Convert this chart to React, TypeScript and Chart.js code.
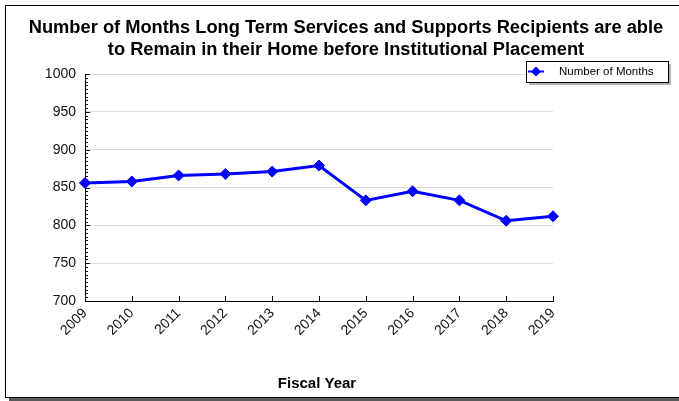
import React, { useEffect, useRef } from 'react';
import { Chart, registerables } from 'chart.js';

Chart.register(...registerables);

const titleLines = [
  'Number of Months Long Term Services and Supports Recipients are able',
  'to Remain in their Home before Institutional Placement',
];
const xAxisTitle = 'Fiscal Year';
const seriesName = 'Number of Months';
const years = ['2009', '2010', '2011', '2012', '2013', '2014', '2015', '2016', '2017', '2018', '2019'];
const months = [856, 858, 866, 868, 871, 879, 833, 845, 833, 806, 812];
const yMin = 700;
const yMax = 1000;
const yStep = 50;
const yMinorStep = 5;

const FONT = '"Liberation Sans", Arial, Helvetica, sans-serif';
const BLUE = '#0000ff';

const decorPlugin = {
  id: 'decor',
  beforeDraw(chart: any) {
    const { ctx } = chart;
    ctx.save();
    ctx.fillStyle = '#ffffff';
    ctx.fillRect(0, 0, chart.width, chart.height);
    ctx.fillStyle = '#5a5a5a';
    ctx.fillRect(9, 398, chart.width, 3);
    ctx.strokeStyle = '#000';
    ctx.lineWidth = 1;
    ctx.strokeRect(5.5, 5.5, chart.width + 20, 392);
    ctx.restore();
  },
  beforeDatasetsDraw(chart: any) {
    const { ctx, chartArea, scales } = chart;
    const x = scales.x;
    const y = scales.y;
    ctx.save();
    ctx.strokeStyle = '#000';
    ctx.lineWidth = 1;
    ctx.beginPath();
    for (let v = yMin; v <= yMax; v += yMinorStep) {
      const py = Math.round(y.getPixelForValue(v)) + 0.5;
      const len = v % yStep === 0 ? 5 : 3;
      ctx.moveTo(chartArea.left, py);
      ctx.lineTo(chartArea.left + len, py);
    }
    for (let i = 0; i < years.length; i++) {
      const px = Math.round(x.getPixelForValue(i)) + 0.5;
      ctx.moveTo(px, chartArea.bottom);
      ctx.lineTo(px, chartArea.bottom - 5);
    }
    ctx.stroke();
    ctx.restore();
  },
  afterDraw(chart: any) {
    const { ctx, chartArea } = chart;
    ctx.save();
    ctx.fillStyle = '#000';
    ctx.font = `bold 18.3px ${FONT}`;
    ctx.textAlign = 'center';
    ctx.textBaseline = 'middle';
    ctx.fillText(titleLines[0], 346, 28);
    ctx.fillText(titleLines[1], 346, 50);
    ctx.font = `bold 15px ${FONT}`;
    ctx.fillText(xAxisTitle, (chartArea.left + chartArea.right) / 2 - 2, 384);
    const lx = 526, ly = 61, lw = 142, lh = 21;
    ctx.fillStyle = '#b0b0b0';
    ctx.fillRect(lx + 3, ly + 3, lw, lh);
    ctx.fillStyle = '#fff';
    ctx.fillRect(lx, ly, lw, lh);
    ctx.strokeStyle = '#000';
    ctx.lineWidth = 1;
    ctx.strokeRect(lx + 0.5, ly + 0.5, lw, lh);
    const cy = ly + 10.5;
    ctx.strokeStyle = BLUE;
    ctx.lineWidth = 2;
    ctx.beginPath();
    ctx.moveTo(lx + 2, cy);
    ctx.lineTo(lx + 18, cy);
    ctx.stroke();
    ctx.fillStyle = BLUE;
    ctx.beginPath();
    ctx.moveTo(lx + 10, cy - 5);
    ctx.lineTo(lx + 15, cy);
    ctx.lineTo(lx + 10, cy + 5);
    ctx.lineTo(lx + 5, cy);
    ctx.closePath();
    ctx.fill();
    ctx.fillStyle = '#000';
    ctx.font = `11.5px ${FONT}`;
    ctx.textAlign = 'left';
    ctx.fillText(seriesName, lx + 33, cy);
    ctx.restore();
  },
};

export default function App() {
  const ref = useRef<HTMLCanvasElement | null>(null);
  useEffect(() => {
    if (!ref.current) return;
    const chart = new Chart(ref.current, {
      type: 'line',
      data: {
        labels: years,
        datasets: [
          {
            label: seriesName,
            data: months,
            borderColor: BLUE,
            backgroundColor: BLUE,
            borderWidth: 3,
            pointStyle: 'rectRot',
            pointRadius: 5.5,
            pointHoverRadius: 5.5,
            pointBackgroundColor: BLUE,
            pointBorderColor: BLUE,
            pointBorderWidth: 1,
            tension: 0,
            clip: false as any,
          },
        ],
      },
      options: {
        responsive: false,
        animation: false,
        devicePixelRatio: 1,
        events: [],
        layout: { padding: { left: 0, top: 74, right: 126, bottom: 0 } },
        plugins: {
          legend: { display: false },
          title: { display: false },
          tooltip: { enabled: false },
        },
        scales: {
          x: {
            type: 'category',
            offset: false,
            grid: { display: false, drawTicks: false },
            border: { display: true, color: '#000', width: 1 },
            ticks: {
              autoSkip: false,
              maxRotation: 45,
              minRotation: 45,
              padding: 4,
              color: '#111',
              font: { family: FONT, size: 14 },
            },
            afterFit(scale: any) {
              scale.height = 100;
              scale.paddingLeft = 0;
              scale.paddingRight = 0;
            },
          },
          y: {
            min: yMin,
            max: yMax,
            grid: { color: '#dcdcdc', drawTicks: false, lineWidth: 1 },
            border: { display: true, color: '#000', width: 1 },
            ticks: {
              stepSize: yStep,
              padding: 9,
              color: '#111',
              font: { family: FONT, size: 14 },
              callback: (v: any) => String(v),
            },
            afterFit(scale: any) {
              scale.width = 85;
              scale.paddingTop = 0;
              scale.paddingBottom = 0;
            },
          },
        },
      },
      plugins: [decorPlugin],
    });
    return () => chart.destroy();
  }, []);
  return (
    <div style={{ position: 'fixed', left: 0, top: 0, width: 679, height: 401, background: '#fff' }}>
      <canvas ref={ref} width={679} height={401} style={{ display: 'block', width: 679, height: 401 }} />
    </div>
  );
}
